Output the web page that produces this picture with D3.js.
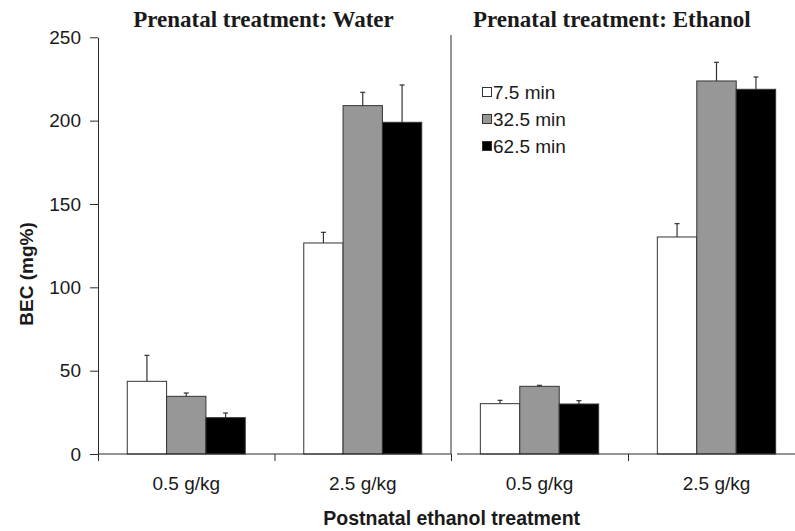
<!DOCTYPE html>
<html>
<head>
<meta charset="utf-8">
<script src="https://cdn.jsdelivr.net/npm/d3@7"></script>
<style>
  html, body { margin: 0; padding: 0; background: #fff; }
  svg { display: block; }
  text { fill: #1a1a1a; }
</style>
</head>
<body>
<script>
// Blood ethanol concentration by prenatal treatment, postnatal dose and sampling time
const panelTitles = ["Prenatal treatment: Water", "Prenatal treatment: Ethanol"];
const doses = ["0.5 g/kg", "2.5 g/kg"];
const times = ["7.5 min", "32.5 min", "62.5 min"];
const yTicks = [0, 50, 100, 150, 200, 250];

// means per dose (rows) and sampling time (columns)
const waterMeans   = [[43.6, 34.6, 21.8], [126.6, 209.0, 199.0]];
const waterSEM     = [[15.6, 2.0, 2.8],   [6.4, 8.0, 22.4]];
const ethanolMeans = [[30.2, 40.6, 30.0], [130.2, 223.8, 218.8]];
const ethanolSEM   = [[2.0, 0.6, 2.0],    [8.0, 11.2, 7.4]];

const W = 795, H = 531;
const fills = ["#ffffff", "#979797", "#000000"];
const ink = "#2b2b2b";

const svg = d3.select("body").append("svg")
  .attr("width", W).attr("height", H);

const y = d3.scaleLinear().domain([0, 250]).range([454, 37.3]);

const panels = [
  { title: panelTitles[0], means: waterMeans, sem: waterSEM, range: [98, 451], axisStart: 98, titleX: 263.5 },
  { title: panelTitles[1], means: ethanolMeans, sem: ethanolSEM, range: [451, 805], axisStart: 457, titleX: 611.8 }
];

// Y axis
const yAxis = d3.axisLeft(y).tickValues(yTicks).tickSize(8).tickSizeOuter(0).tickPadding(9);
const gy = svg.append("g").attr("transform", "translate(98,0)").call(yAxis);
gy.selectAll("path, line").attr("stroke", ink);
gy.selectAll("text").attr("font-family", "Arial, 'Liberation Sans', sans-serif")
  .attr("font-size", 19).attr("fill", "#1a1a1a");

panels.forEach((p, pi) => {
  const x = d3.scaleBand().domain(doses).range(p.range).paddingInner(0).paddingOuter(0);
  const xs = d3.scaleBand().domain(times).range([0, x.bandwidth()])
    .paddingInner(0).paddingOuter(0.744);
  const edge = d3.scaleLinear().domain([0, doses.length]).range(p.range);

  const g = svg.append("g");

  // bars
  doses.forEach((dose, di) => {
    const grp = g.append("g").attr("transform", `translate(${x(dose)},0)`);
    const rows = times.map((t, ti) => ({ t, ti, v: p.means[di][ti], e: p.sem[di][ti] }));

    grp.selectAll("rect").data(rows).join("rect")
      .attr("x", d => xs(d.t))
      .attr("y", d => y(d.v))
      .attr("width", xs.bandwidth())
      .attr("height", d => y(0) - y(d.v))
      .attr("fill", d => fills[d.ti])
      .attr("stroke", "#333")
      .attr("stroke-width", 1);

    // upper error bars
    const eb = grp.selectAll("g.err").data(rows).join("g").attr("class", "err");
    eb.append("line")
      .attr("x1", d => xs(d.t) + xs.bandwidth() / 2)
      .attr("x2", d => xs(d.t) + xs.bandwidth() / 2)
      .attr("y1", d => y(d.v))
      .attr("y2", d => y(d.v + d.e))
      .attr("stroke", "#333").attr("stroke-width", 1.2);
    eb.append("line")
      .attr("x1", d => xs(d.t) + xs.bandwidth() / 2 - 2.5)
      .attr("x2", d => xs(d.t) + xs.bandwidth() / 2 + 2.5)
      .attr("y1", d => y(d.v + d.e))
      .attr("y2", d => y(d.v + d.e))
      .attr("stroke", "#333").attr("stroke-width", 1.2);
  });

  // x axis line
  svg.append("line")
    .attr("x1", p.axisStart).attr("x2", p.range[1])
    .attr("y1", y(0)).attr("y2", y(0))
    .attr("stroke", ink).attr("stroke-width", 1);

  // boundary ticks between dose groups
  const tickAxis = d3.axisBottom(edge).tickValues(d3.range(doses.length + 1))
    .tickSize(7).tickSizeOuter(0).tickFormat("");
  const gt = svg.append("g").attr("transform", `translate(0,${y(0)})`).call(tickAxis);
  gt.select(".domain").remove();
  gt.selectAll("line").attr("stroke", ink);

  // dose labels centred under each group
  const labAxis = d3.axisBottom(x).tickSize(0).tickPadding(23);
  const gl = svg.append("g").attr("transform", `translate(0,${y(0)})`).call(labAxis);
  gl.select(".domain").remove();
  gl.selectAll("text").attr("font-family", "Arial, 'Liberation Sans', sans-serif")
    .attr("font-size", 19).attr("fill", "#1a1a1a");

  // panel title
  svg.append("text")
    .attr("x", p.titleX).attr("y", 27.3)
    .attr("text-anchor", "middle")
    .attr("font-family", "'Times New Roman', 'Liberation Serif', serif")
    .attr("font-weight", "bold").attr("font-size", 23)
    .text(p.title);
});

// divider between the two panels
svg.append("line")
  .attr("x1", 451).attr("x2", 451)
  .attr("y1", 35).attr("y2", y(0))
  .attr("stroke", ink).attr("stroke-width", 1);

// legend
const legend = svg.append("g").attr("transform", "translate(482,87)");
times.forEach((t, i) => {
  const row = legend.append("g").attr("transform", `translate(0,${i * 27})`);
  row.append("rect").attr("x", 0.5).attr("y", 0.5).attr("width", 9).attr("height", 9)
    .attr("fill", fills[i]).attr("stroke", "#333").attr("stroke-width", 1);
  row.append("text").attr("x", 11).attr("y", 12)
    .attr("font-family", "Arial, 'Liberation Sans', sans-serif")
    .attr("font-size", 19).text(t);
});

// axis titles
svg.append("text")
  .attr("transform", "translate(33,274) rotate(-90)")
  .attr("text-anchor", "middle")
  .attr("font-family", "Arial, 'Liberation Sans', sans-serif")
  .attr("font-weight", "bold").attr("font-size", 19)
  .text("BEC (mg%)");

svg.append("text")
  .attr("x", 451.7).attr("y", 525)
  .attr("text-anchor", "middle")
  .attr("font-family", "Arial, 'Liberation Sans', sans-serif")
  .attr("font-weight", "bold").attr("font-size", 19.5)
  .text("Postnatal ethanol treatment");
</script>
</body>
</html>
